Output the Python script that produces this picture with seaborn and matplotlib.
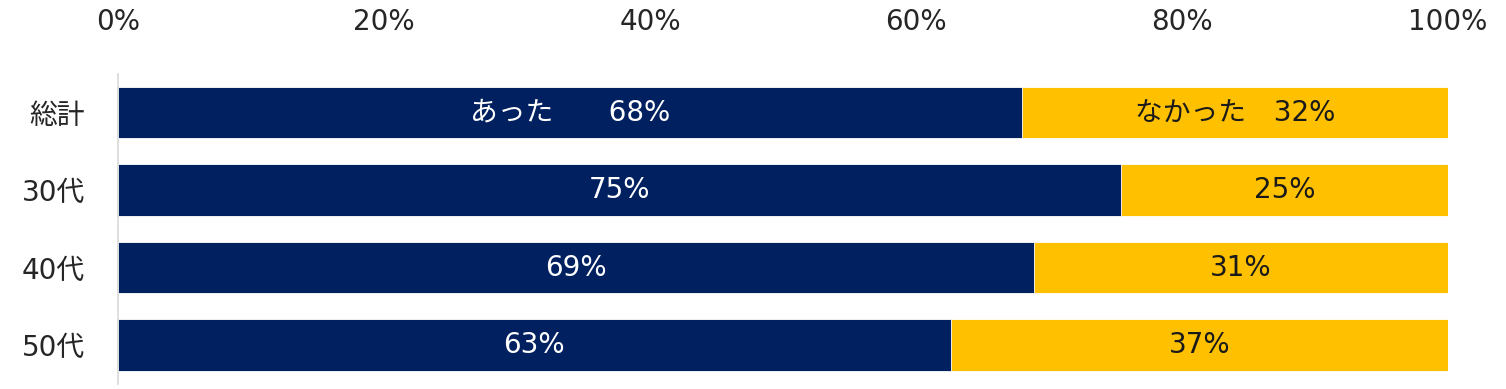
import matplotlib
matplotlib.use("Agg")
import matplotlib.pyplot as plt
import seaborn as sns
import pandas as pd

# values (percent)
categories = ["総計", "30代", "40代", "50代"]
yes_vals = [68.0, 75.4, 68.9, 62.6]   # あった
no_vals = [32.0, 24.6, 31.1, 37.4]    # なかった
series = ["あった", "なかった"]
ticks = [0, 20, 40, 60, 80, 100]

navy = "#002060"
yellow = "#FFC000"

sns.set_theme(style="white")
plt.rcParams['font.family'] = ['DejaVu Sans', 'Noto Sans CJK JP']

df = pd.DataFrame({"cat": categories, "yes": yes_vals, "no": no_vals})
df["total"] = df["yes"] + df["no"]

fig = plt.figure(figsize=(15.06, 3.89), dpi=100)
ax = fig.add_axes([118 / 1506, 1 - 383.75 / 389, 1330 / 1506, 310 / 389])

# stacked: full bar in yellow, navy part on top of it
sns.barplot(data=df, x="total", y="cat", order=categories, color=yellow,
            width=0.66, saturation=1, edgecolor="white", linewidth=0.6, ax=ax)
sns.barplot(data=df, x="yes", y="cat", order=categories, color=navy,
            width=0.66, saturation=1, edgecolor="white", linewidth=0.6, ax=ax)

# labels inside the bars
for i, (y, n) in enumerate(zip(yes_vals, no_vals)):
    yl = f"{y:.0f}%"
    nl = f"{n:.0f}%"
    if i == 0:
        yl = series[0] + "\u3000\u3000" + yl
        nl = series[1] + "\u3000" + nl
    ax.text(y / 2, i, yl, ha="center", va="center", color="white", fontsize=20)
    ax.text(y + n / 2, i, nl, ha="center", va="center", color="#1a1a1a", fontsize=20)

ax.set_xlim(0, 100)
ax.set_ylim(3.5, -0.5)
ax.xaxis.tick_top()
ax.set_xticks(ticks)
ax.set_xticklabels([f"{t}%" for t in ticks])
ax.tick_params(axis="x", length=0, pad=27, labelsize=20, labelcolor="#262626")
ax.tick_params(axis="y", length=0, pad=24, labelsize=20, labelcolor="#262626")
ax.set_xlabel("")
ax.set_ylabel("")

for s in ["top", "right", "bottom"]:
    ax.spines[s].set_visible(False)
ax.spines["left"].set_color("#D9D9D9")
ax.spines["left"].set_linewidth(1.2)

fig.savefig("out.png", dpi=100)
